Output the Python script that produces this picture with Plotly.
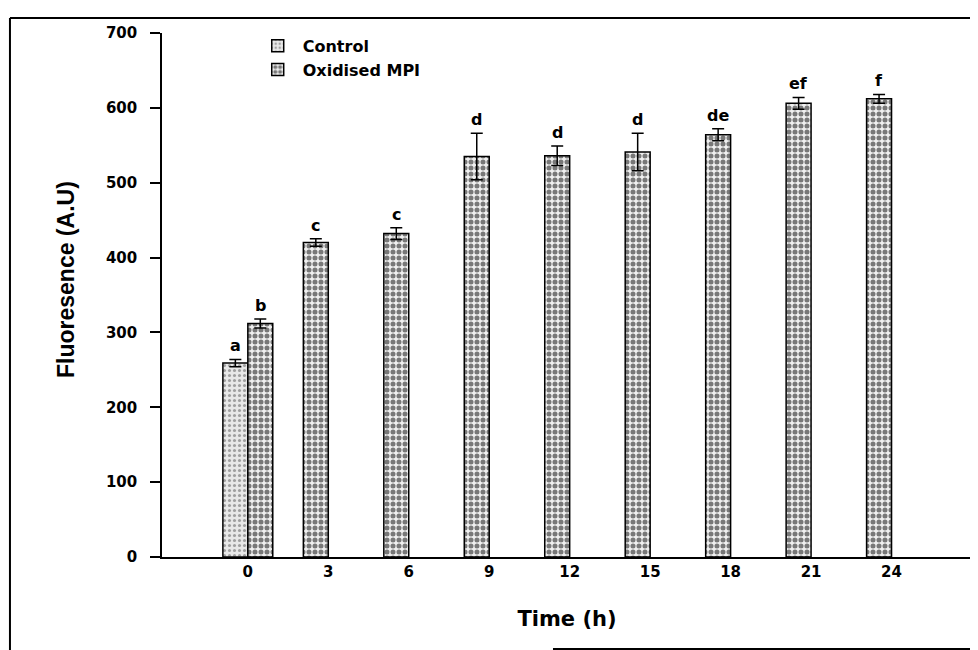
import plotly.graph_objects as go

times = [0, 3, 6, 9, 12, 15, 18, 21, 24]
tick_labels = ["0", "3", "6", "9", "12", "15", "18", "21", "24"]

control_times = [0]
control_values = [259]
control_err = [5]
control_letters = ["a"]

oxidised_values = [312, 420, 432, 535, 536, 541, 564, 606, 612]
oxidised_err = [6, 5, 8, 31, 13, 25, 8, 8, 6]
oxidised_letters = ["b", "c", "c", "d", "d", "d", "de", "ef", "f"]

y_ticks = [0, 100, 200, 300, 400, 500, 600, 700]

W = 0.93
wide = "DejaVu Sans, Verdana, sans-serif"
arial = "Liberation Sans, Arial, sans-serif"

ox_offsets = [0 if t == 0 else -W for t in times]

fig = go.Figure()
fig.add_trace(go.Bar(
    name="<b>Control</b>", x=control_times, y=control_values, width=W, offset=-W,
    marker=dict(color="#e6e6e6", line=dict(color="black", width=1.5),
                pattern=dict(shape=".", fgcolor="#555555", bgcolor="#e8e8e8", size=5, solidity=0.3)),
    error_y=dict(type="data", array=control_err, color="black", thickness=1.5, width=6),
))
fig.add_trace(go.Bar(
    name="<b>Oxidised MPI</b>", x=times, y=oxidised_values, width=W, offset=ox_offsets,
    marker=dict(color="white", line=dict(color="black", width=1.5),
                pattern=dict(shape=".", fgcolor="black", bgcolor="#f0f0f0", size=6, solidity=0.55)),
    error_y=dict(type="data", array=oxidised_err, color="black", thickness=1.5, width=6),
))

annos = []
for t, v, e, l in zip(control_times, control_values, control_err, control_letters):
    annos.append(dict(x=t - W / 2, y=v + e, text="<b>%s</b>" % l, showarrow=False, yanchor="bottom", yshift=2,
                      font=dict(family=wide, size=16, color="black")))
for t, v, e, l, o in zip(times, oxidised_values, oxidised_err, oxidised_letters, ox_offsets):
    annos.append(dict(x=t + o + W / 2, y=v + e, text="<b>%s</b>" % l, showarrow=False, yanchor="bottom", yshift=2,
                      font=dict(family=wide, size=16, color="black")))
annos.append(dict(xref="paper", yref="paper", x=-0.1185, y=0.5286, xanchor="center", yanchor="middle",
                  textangle=-90, showarrow=False, text="<b>Fluoresence (A.U)</b>",
                  font=dict(family=arial, size=23, color="black")))

frame = dict(color="black", width=2)
fig.update_layout(
    width=970, height=642,
    margin=dict(l=154, r=6, t=25, b=93),
    paper_bgcolor="white", plot_bgcolor="white",
    barmode="overlay",
    showlegend=True,
    legend=dict(x=0.112, y=1.008, xanchor="left", yanchor="top", bgcolor="rgba(0,0,0,0)",
                font=dict(family=wide, size=16, color="black"), itemwidth=40, tracegroupgap=0),
    annotations=annos,
    xaxis=dict(range=[-3.2, 27.0], tickmode="array", tickvals=times,
               ticktext=["<b>%s</b>" % s for s in tick_labels], ticks="",
               showline=True, linecolor="black", linewidth=1.5, showgrid=False, zeroline=False,
               tickfont=dict(family=wide, size=15, color="black"),
               title=dict(text="<b>Time (h)</b>", font=dict(family=wide, size=21, color="black"), standoff=32)),
    yaxis=dict(range=[0, 700], tickmode="array", tickvals=y_ticks,
               ticktext=["<b>%d</b>" % v for v in y_ticks],
               ticks="outside", ticklen=10, tickwidth=1.5, tickcolor="black", ticklabelstandoff=10,
               showline=True, linecolor="black", linewidth=1.5, showgrid=False, zeroline=False,
               tickfont=dict(family=wide, size=15, color="black")),
    shapes=[
        dict(type="line", xref="paper", yref="paper", x0=-0.1877, x1=1.0074, y0=1.0286, y1=1.0286, line=frame),
        dict(type="line", xref="paper", yref="paper", x0=-0.1877, x1=-0.1877, y0=1.0286, y1=-0.178, line=frame),
        dict(type="line", xref="paper", yref="paper", x0=0.4827, x1=1.0074, y0=-0.1756, y1=-0.1756, line=frame),
    ],
)

fig.write_html("out.html")
